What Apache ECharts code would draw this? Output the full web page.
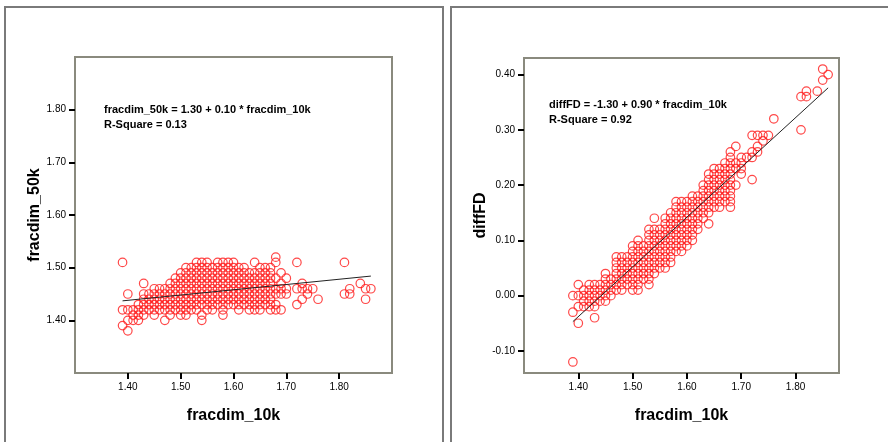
<!DOCTYPE html>
<html>
<head>
<meta charset="utf-8">
<style>
  html, body { margin: 0; padding: 0; background: #fff; }
  #main { width: 888px; height: 442px; }
</style>
<script src="https://cdn.jsdelivr.net/npm/echarts@6/dist/echarts.min.js"></script>
</head>
<body>
<div id="main"></div>
<script>
// tick values shown on the axes
var xTicks = [1.40, 1.50, 1.60, 1.70, 1.80]
var leftYTicks = [1.40, 1.50, 1.60, 1.70, 1.80]
var rightYTicks = [-0.10, 0.00, 0.10, 0.20, 0.30, 0.40]

// fracdim_50k by fracdim_10k, one row per x column
var left50k = [
  [1.39, [1.51, 1.42, 1.39]],
  [1.40, [1.45, 1.42, 1.40, 1.38]],
  [1.41, [1.42, 1.41, 1.40]],
  [1.42, [1.43, 1.42, 1.41, 1.40]],
  [1.43, [1.47, 1.45, 1.44, 1.43, 1.42, 1.41]],
  [1.44, [1.45, 1.44, 1.43, 1.42]],
  [1.45, [1.46, 1.45, 1.44, 1.43, 1.42, 1.41]],
  [1.46, [1.46, 1.45, 1.44, 1.43, 1.42]],
  [1.47, [1.46, 1.45, 1.44, 1.43, 1.42, 1.40]],
  [1.48, [1.47, 1.46, 1.45, 1.44, 1.43, 1.42, 1.41]],
  [1.49, [1.48, 1.47, 1.46, 1.45, 1.44, 1.43, 1.42]],
  [1.50, [1.49, 1.48, 1.47, 1.46, 1.45, 1.44, 1.43, 1.42, 1.41]],
  [1.51, [1.50, 1.49, 1.48, 1.47, 1.46, 1.45, 1.44, 1.43, 1.42, 1.41]],
  [1.52, [1.50, 1.49, 1.48, 1.47, 1.46, 1.45, 1.44, 1.43, 1.42]],
  [1.53, [1.51, 1.50, 1.49, 1.48, 1.47, 1.46, 1.45, 1.44, 1.43, 1.42]],
  [1.54, [1.51, 1.50, 1.49, 1.48, 1.47, 1.46, 1.45, 1.44, 1.43, 1.41, 1.40]],
  [1.55, [1.51, 1.50, 1.49, 1.48, 1.47, 1.46, 1.45, 1.44, 1.43, 1.42]],
  [1.56, [1.50, 1.49, 1.48, 1.47, 1.46, 1.45, 1.44, 1.43, 1.42]],
  [1.57, [1.51, 1.50, 1.49, 1.48, 1.47, 1.46, 1.45, 1.44, 1.43]],
  [1.58, [1.51, 1.50, 1.49, 1.48, 1.47, 1.46, 1.45, 1.44, 1.43, 1.42, 1.41]],
  [1.59, [1.51, 1.50, 1.49, 1.48, 1.47, 1.46, 1.45, 1.44, 1.43]],
  [1.60, [1.51, 1.50, 1.49, 1.48, 1.47, 1.46, 1.45, 1.44, 1.43]],
  [1.61, [1.50, 1.49, 1.48, 1.47, 1.46, 1.45, 1.44, 1.43, 1.42]],
  [1.62, [1.50, 1.49, 1.48, 1.47, 1.46, 1.45, 1.44, 1.43]],
  [1.63, [1.49, 1.48, 1.47, 1.46, 1.45, 1.44, 1.43, 1.42]],
  [1.64, [1.51, 1.49, 1.48, 1.47, 1.46, 1.45, 1.44, 1.43, 1.42]],
  [1.65, [1.50, 1.49, 1.48, 1.47, 1.46, 1.45, 1.44, 1.43, 1.42]],
  [1.66, [1.50, 1.49, 1.48, 1.47, 1.46, 1.45, 1.44, 1.43]],
  [1.67, [1.50, 1.49, 1.48, 1.47, 1.46, 1.45, 1.44, 1.43, 1.42]],
  [1.68, [1.52, 1.51, 1.48, 1.46, 1.45, 1.43, 1.42]],
  [1.69, [1.49, 1.47, 1.46, 1.45, 1.42]],
  [1.70, [1.48, 1.46, 1.45]],
  [1.72, [1.51, 1.46, 1.43]],
  [1.73, [1.47, 1.46, 1.44]],
  [1.74, [1.46, 1.45]],
  [1.75, [1.46]],
  [1.76, [1.44]],
  [1.81, [1.51, 1.45]],
  [1.82, [1.46, 1.45]],
  [1.84, [1.47]],
  [1.85, [1.46, 1.44]],
  [1.86, [1.46]]
]

// diffFD by fracdim_10k
var rightDiff = [
  [1.39, [0.00, -0.03, -0.12]],
  [1.40, [0.02, 0.00, -0.02, -0.05]],
  [1.41, [0.01, 0.00, -0.01, -0.02]],
  [1.42, [0.02, 0.01, 0.00, -0.01, -0.02]],
  [1.43, [0.02, 0.01, 0.00, -0.01, -0.02, -0.04]],
  [1.44, [0.02, 0.01, 0.00, -0.01]],
  [1.45, [0.04, 0.03, 0.02, 0.01, 0.00, -0.01]],
  [1.46, [0.03, 0.02, 0.01, 0.00]],
  [1.47, [0.07, 0.06, 0.05, 0.04, 0.03, 0.02, 0.01]],
  [1.48, [0.07, 0.06, 0.05, 0.04, 0.03, 0.02, 0.01]],
  [1.49, [0.07, 0.06, 0.05, 0.04, 0.03, 0.02]],
  [1.50, [0.09, 0.08, 0.07, 0.06, 0.05, 0.04, 0.03, 0.02, 0.01]],
  [1.51, [0.10, 0.09, 0.08, 0.07, 0.06, 0.05, 0.04, 0.03, 0.02, 0.01]],
  [1.52, [0.09, 0.08, 0.07, 0.06, 0.05, 0.04, 0.03]],
  [1.53, [0.12, 0.11, 0.10, 0.09, 0.08, 0.07, 0.06, 0.05, 0.04, 0.03, 0.02]],
  [1.54, [0.14, 0.12, 0.11, 0.10, 0.09, 0.08, 0.07, 0.06, 0.05, 0.04]],
  [1.55, [0.12, 0.11, 0.10, 0.09, 0.08, 0.07, 0.06, 0.05]],
  [1.56, [0.14, 0.13, 0.12, 0.11, 0.10, 0.09, 0.08, 0.07, 0.06, 0.05]],
  [1.57, [0.15, 0.14, 0.13, 0.12, 0.11, 0.10, 0.09, 0.08, 0.07, 0.06]],
  [1.58, [0.17, 0.16, 0.15, 0.14, 0.13, 0.12, 0.11, 0.10, 0.09, 0.08]],
  [1.59, [0.17, 0.16, 0.15, 0.14, 0.13, 0.12, 0.11, 0.10, 0.09, 0.08]],
  [1.60, [0.17, 0.16, 0.15, 0.14, 0.13, 0.12, 0.11, 0.10, 0.09]],
  [1.61, [0.18, 0.17, 0.16, 0.15, 0.14, 0.13, 0.12, 0.11, 0.10]],
  [1.62, [0.18, 0.17, 0.16, 0.15, 0.14, 0.13, 0.12]],
  [1.63, [0.20, 0.19, 0.18, 0.17, 0.16, 0.15, 0.14]],
  [1.64, [0.22, 0.21, 0.20, 0.19, 0.18, 0.17, 0.16, 0.15, 0.13]],
  [1.65, [0.23, 0.22, 0.21, 0.20, 0.19, 0.18, 0.17, 0.16]],
  [1.66, [0.23, 0.22, 0.21, 0.20, 0.19, 0.18, 0.17, 0.16]],
  [1.67, [0.24, 0.23, 0.22, 0.21, 0.20, 0.19, 0.18, 0.17]],
  [1.68, [0.26, 0.25, 0.24, 0.23, 0.22, 0.21, 0.20, 0.19, 0.18, 0.17, 0.16]],
  [1.69, [0.27, 0.24, 0.23, 0.20]],
  [1.70, [0.25, 0.24, 0.23, 0.22]],
  [1.71, [0.25]],
  [1.72, [0.29, 0.26, 0.25, 0.21]],
  [1.73, [0.29, 0.27, 0.26]],
  [1.74, [0.29, 0.28]],
  [1.75, [0.29]],
  [1.76, [0.32]],
  [1.81, [0.36, 0.30]],
  [1.82, [0.37, 0.36]],
  [1.84, [0.37]],
  [1.85, [0.41, 0.39]],
  [1.86, [0.40]]
]

// fitted line end points
var fitX = [1.39, 1.86]
var leftFitY = [1.437, 1.484]
var rightFitY = [-0.047, 0.376]

var leftEquation = 'fracdim_50k = 1.30 + 0.10 * fracdim_10k'
var leftRSquare = 'R-Square = 0.13'
var rightEquation = 'diffFD = -1.30 + 0.90 * fracdim_10k'
var rightRSquare = 'R-Square = 0.92'

function toPoints(cols) {
  var pts = []
  cols.forEach(function (c) {
    c[1].forEach(function (y) { pts.push([c[0], y]) })
  })
  return pts
}
function toLine(ys) {
  return fitX.map(function (x, i) { return [x, ys[i]] })
}

var FONT = 'Liberation Sans, Arial, sans-serif'
var fmt = function (v) { return v.toFixed(2) }

function xAxis(idx) {
  return {
    type: 'value', gridIndex: idx, min: 1.30, max: idx === 0 ? 1.90 : 1.88,
    name: 'fracdim_10k', nameLocation: 'middle', nameGap: 35,
    nameTextStyle: { fontFamily: FONT, fontWeight: 'bold', fontSize: 16, color: '#000' },
    axisLine: { show: false, onZero: false },
    axisTick: { show: true, length: 6, customValues: xTicks, lineStyle: { color: '#000', width: 2 } },
    axisLabel: { customValues: xTicks, formatter: fmt, margin: 9, fontFamily: FONT, fontSize: 10, color: '#000' },
    splitLine: { show: false }
  }
}
function yAxis(idx, name, min, max, ticks, gap) {
  return {
    type: 'value', gridIndex: idx, min: min, max: max,
    name: name, nameLocation: 'middle', nameGap: gap,
    nameTextStyle: { fontFamily: FONT, fontWeight: 'bold', fontSize: 16, color: '#000' },
    axisLine: { show: false, onZero: false },
    axisTick: { show: true, length: 6, customValues: ticks, lineStyle: { color: '#000', width: 2 } },
    axisLabel: { customValues: ticks, formatter: fmt, margin: 9, fontFamily: FONT, fontSize: 10, color: '#000' },
    splitLine: { show: false }
  }
}
function scatter(idx, cols) {
  return {
    type: 'scatter', xAxisIndex: idx, yAxisIndex: idx,
    data: toPoints(cols), symbol: 'circle', symbolSize: 8.5,
    itemStyle: { color: 'rgba(0,0,0,0)', borderColor: '#ff1a1a', borderWidth: 1.2 },
    silent: true, animation: false
  }
}
function fit(idx, ys) {
  return {
    type: 'line', xAxisIndex: idx, yAxisIndex: idx, data: toLine(ys),
    showSymbol: false, lineStyle: { color: '#222', width: 1 }, z: 5,
    silent: true, animation: false
  }
}
function label(x, y, text) {
  return {
    type: 'text', left: x, top: y,
    style: { text: text, fontFamily: FONT, fontWeight: 'bold', fontSize: 11, fill: '#000' }
  }
}

var chart = echarts.init(document.getElementById('main'))
chart.setOption({
  backgroundColor: '#fff',
  animation: false,
  grid: [
    { left: 75, top: 57, width: 317, height: 316, show: true, borderColor: '#8a8a7e', borderWidth: 2 },
    { left: 524, top: 58, width: 315, height: 315, show: true, borderColor: '#8a8a7e', borderWidth: 2 }
  ],
  xAxis: [xAxis(0), xAxis(1)],
  yAxis: [
    yAxis(0, 'fracdim_50k', 1.30, 1.90, leftYTicks, 32),
    yAxis(1, 'diffFD', -0.14, 0.43, rightYTicks, 35)
  ],
  series: [scatter(0, left50k), fit(0, leftFitY), scatter(1, rightDiff), fit(1, rightFitY)],
  graphic: [
    { type: 'rect', shape: { x: 5, y: 7, width: 438, height: 445 }, style: { fill: 'none', stroke: '#7a7a7a', lineWidth: 2 }, z: -1 },
    { type: 'rect', shape: { x: 451, y: 7, width: 445, height: 445 }, style: { fill: 'none', stroke: '#7a7a7a', lineWidth: 2 }, z: -1 },
    label(104, 104, leftEquation),
    label(104, 119, leftRSquare),
    label(549, 99, rightEquation),
    label(549, 114, rightRSquare)
  ]
})
</script>
</body>
</html>
